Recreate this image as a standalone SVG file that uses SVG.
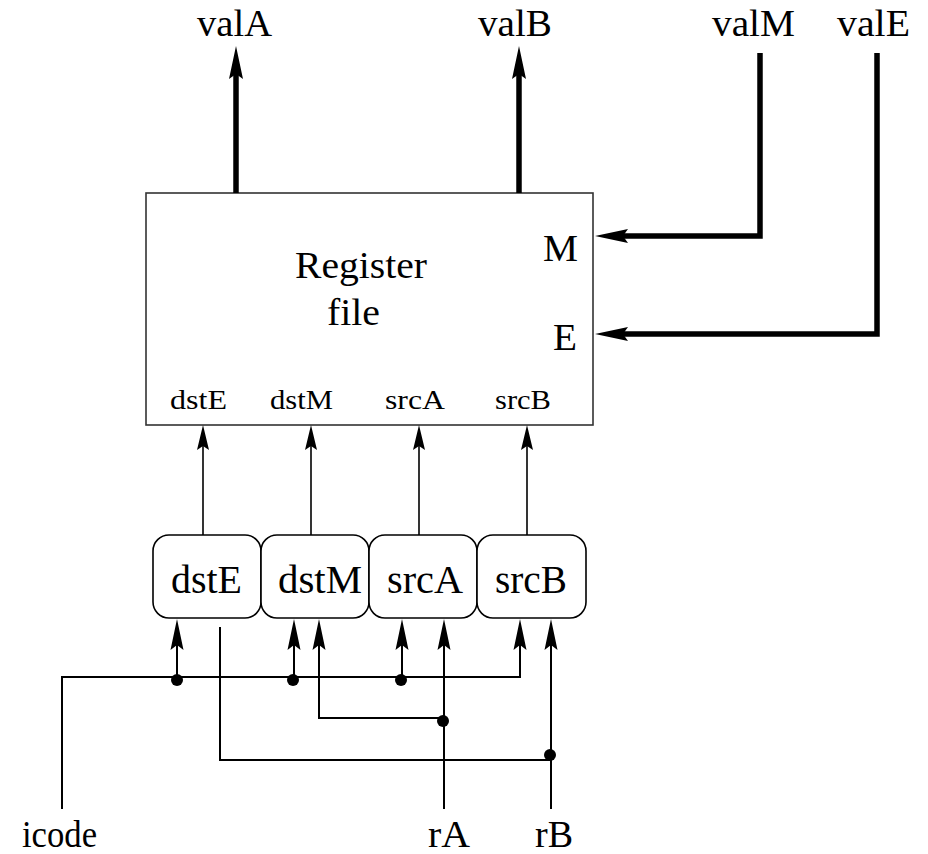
<svg xmlns="http://www.w3.org/2000/svg" width="928" height="854" viewBox="0 0 928 854">
  <style>
    text { font-family: "Liberation Serif", "Times New Roman", serif; fill: #000; }
    .big { font-size: 37px; }
    .lbl { font-size: 40px; }
    .port { font-size: 27px; }
    .regbox { fill: #fff; stroke: #333; stroke-width: 1.6; }
    .pipe { fill: #fff; stroke: #000; stroke-width: 1.6; }
    .bus { fill: none; stroke: #000; stroke-width: 5.5; }
    .wire { fill: none; stroke: #000; stroke-width: 2; }
    .wire-thin { fill: none; stroke: #000; stroke-width: 1.6; }
    .dot { fill: #000; }
  </style>
  <defs>
    <marker id="headThick" viewBox="-34 -8 35 16" refX="-28" refY="0" markerWidth="35" markerHeight="16" markerUnits="userSpaceOnUse" orient="auto">
      <path d="M0,0 L-33,-7 L-28,0 L-33,7 Z" fill="#000"/>
    </marker>
    <marker id="headThin" viewBox="-32 -7 33 14" refX="-26" refY="0" markerWidth="33" markerHeight="14" markerUnits="userSpaceOnUse" orient="auto">
      <path d="M0,0 L-31,-6.5 L-26,0 L-31,6.5 Z" fill="#000"/>
    </marker>
    <marker id="headPort" viewBox="-26 -7 27 14" refX="-21" refY="0" markerWidth="27" markerHeight="14" markerUnits="userSpaceOnUse" orient="auto">
      <path d="M0,0 L-25,-6 L-21,0 L-25,6 Z" fill="#000"/>
    </marker>
  </defs>

  <!-- register file block -->
  <g id="regfile">
    <rect class="regbox" x="146" y="193" width="447" height="232"/>
    <text class="big" x="295" y="278" textLength="132" lengthAdjust="spacingAndGlyphs">Register</text>
    <text class="big" x="327" y="325" textLength="53" lengthAdjust="spacingAndGlyphs">file</text>
    <text class="big" x="543" y="261" textLength="35" lengthAdjust="spacingAndGlyphs">M</text>
    <text class="big" x="553" y="350" textLength="24" lengthAdjust="spacingAndGlyphs">E</text>
    <text class="port" x="170" y="409" textLength="57" lengthAdjust="spacingAndGlyphs">dstE</text>
    <text class="port" x="270" y="409" textLength="63" lengthAdjust="spacingAndGlyphs">dstM</text>
    <text class="port" x="385" y="409" textLength="60" lengthAdjust="spacingAndGlyphs">srcA</text>
    <text class="port" x="495" y="409" textLength="56" lengthAdjust="spacingAndGlyphs">srcB</text>
  </g>

  <!-- pipeline selection blocks -->
  <g id="dstE">
    <rect class="pipe" x="153" y="535" width="108" height="83" rx="16" ry="16"/>
    <text class="lbl" x="171" y="593" textLength="71" lengthAdjust="spacingAndGlyphs">dstE</text>
  </g>
  <g id="dstM">
    <rect class="pipe" x="261" y="535" width="108" height="83" rx="16" ry="16"/>
    <text class="lbl" x="278" y="593" textLength="84" lengthAdjust="spacingAndGlyphs">dstM</text>
  </g>
  <g id="srcA">
    <rect class="pipe" x="369" y="535" width="108" height="83" rx="16" ry="16"/>
    <text class="lbl" x="387" y="593" textLength="76" lengthAdjust="spacingAndGlyphs">srcA</text>
  </g>
  <g id="srcB">
    <rect class="pipe" x="477" y="535" width="109" height="83" rx="16" ry="16"/>
    <text class="lbl" x="495" y="593" textLength="72" lengthAdjust="spacingAndGlyphs">srcB</text>
  </g>

  <!-- signal names -->
  <g id="valA"><text class="big" x="197" y="36" textLength="75" lengthAdjust="spacingAndGlyphs">valA</text></g>
  <g id="valB"><text class="big" x="478" y="36" textLength="74" lengthAdjust="spacingAndGlyphs">valB</text></g>
  <g id="valM"><text class="big" x="712" y="36" textLength="83" lengthAdjust="spacingAndGlyphs">valM</text></g>
  <g id="valE"><text class="big" x="837" y="36" textLength="73" lengthAdjust="spacingAndGlyphs">valE</text></g>
  <g id="icode"><text class="big" x="22" y="847" textLength="75" lengthAdjust="spacingAndGlyphs">icode</text></g>
  <g id="rA"><text class="big" x="428" y="847" textLength="42" lengthAdjust="spacingAndGlyphs">rA</text></g>
  <g id="rB"><text class="big" x="535" y="847" textLength="38" lengthAdjust="spacingAndGlyphs">rB</text></g>

  <g id="connectors">
    <!-- word-wide data buses -->
    <path class="bus" d="M236,193 V74" marker-end="url(#headThick)"/>
    <path class="bus" d="M519,193 V74" marker-end="url(#headThick)"/>
    <path class="bus" d="M760,53 V236 H623" marker-end="url(#headThick)"/>
    <path class="bus" d="M877,53 V334 H623" marker-end="url(#headThick)"/>

    <!-- register ids into the file -->
    <path class="wire-thin" d="M203,535 V446" marker-end="url(#headPort)"/>
    <path class="wire-thin" d="M311,535 V446" marker-end="url(#headPort)"/>
    <path class="wire-thin" d="M419,535 V446" marker-end="url(#headPort)"/>
    <path class="wire-thin" d="M527,535 V446" marker-end="url(#headPort)"/>

    <!-- icode fan-out -->
    <path class="wire" d="M62,809 V677 H520 V645" marker-end="url(#headThin)"/>
    <path class="wire" d="M177,677 V645" marker-end="url(#headThin)"/>
    <path class="wire" d="M294,677 V645" marker-end="url(#headThin)"/>
    <path class="wire" d="M402,677 V645" marker-end="url(#headThin)"/>

    <!-- rA -->
    <path class="wire" d="M444,809 V645" marker-end="url(#headThin)"/>
    <path class="wire" d="M444,718 H319 V645" marker-end="url(#headThin)"/>

    <!-- rB -->
    <path class="wire" d="M551,809 V645" marker-end="url(#headThin)"/>
    <path class="wire" d="M551,760 H220 V627"/>

    <!-- junctions -->
    <circle class="dot" cx="177" cy="680" r="6"/>
    <circle class="dot" cx="293" cy="680" r="6"/>
    <circle class="dot" cx="401" cy="680" r="6"/>
    <circle class="dot" cx="443" cy="721" r="6"/>
    <circle class="dot" cx="550" cy="755" r="6"/>
  </g>
</svg>
